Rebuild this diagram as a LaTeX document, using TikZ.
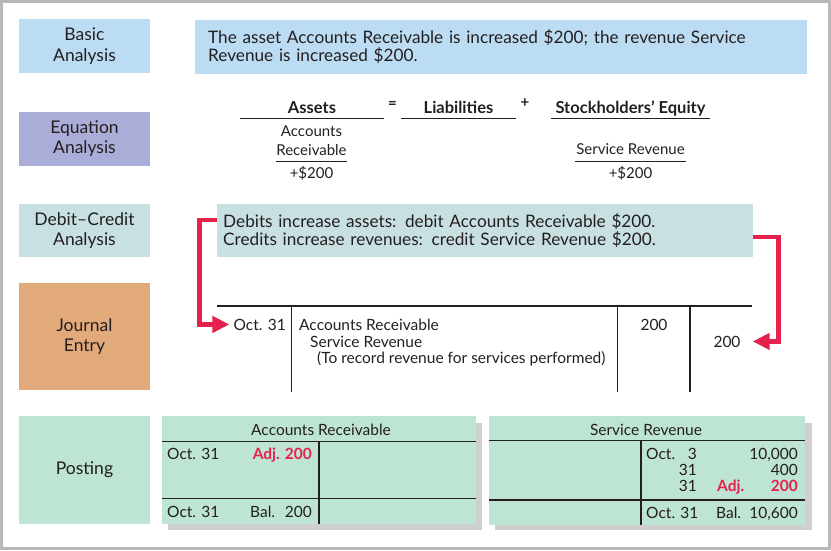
\documentclass[tikz,border=0pt]{standalone}
\usepackage{fontspec}
\setmainfont{Lato}
\usetikzlibrary{arrows.meta}
\definecolor{basicblue}{HTML}{BCDCF3}
\definecolor{eqlilac}{HTML}{ABADD9}
\definecolor{dcgrey}{HTML}{C9E0E2}
\definecolor{jetan}{HTML}{E2A97B}
\definecolor{postmint}{HTML}{BEE4D3}
\definecolor{flowred}{HTML}{E5214E}
\definecolor{inkdark}{HTML}{231F20}
\definecolor{framegrey}{HTML}{B8B8B8}
\definecolor{shadegrey}{HTML}{CFCFCF}

\begin{document}
\begin{tikzpicture}[x=1pt,y=-1pt,
  every node/.style={text=inkdark},
  labelbox/.style={minimum width=131pt,inner sep=0pt,align=center,
    font=\fontsize{17.5}{20.5}\selectfont},
  bigtext/.style={font=\fontsize{17.2}{18.5}\selectfont},
  eqtext/.style={font=\fontsize{15}{17}\selectfont,inner sep=0pt},
  eqhead/.style={font=\fontsize{16.5}{18}\selectfont\bfseries,inner sep=0pt},
  jtext/.style={font=\fontsize{15.5}{17}\selectfont,inner sep=0pt},
  ttext/.style={font=\fontsize{15.5}{17}\selectfont,inner sep=0pt},
  redtext/.style={font=\fontsize{15.5}{17}\selectfont\bfseries,text=flowred,inner sep=0pt},
  rule/.style={draw=inkdark,line width=1.1pt},
  flow/.style={draw=flowred,line width=4.5pt,
    -{Triangle[length=17pt,width=16pt]}}]

\useasboundingbox (0,0) rectangle (831,550);
\draw[framegrey,line width=3pt] (1.5,1.5) rectangle (829.5,548.5);

% left column labels
\node[labelbox,fill=basicblue,minimum height=54pt] (basiclab) at (84.5,46.3) {Basic\\Analysis};
\node[labelbox,fill=eqlilac,minimum height=54pt] (eqlab) at (84.5,138.8) {Equation\\Analysis};
\node[labelbox,fill=dcgrey,minimum height=53pt] (dclab) at (84.5,230.7) {Debit--Credit\\Analysis};
\node[labelbox,fill=jetan,minimum height=107pt] (jelab) at (84.5,336.7) {Journal\\Entry};
\node[labelbox,fill=postmint,minimum height=108pt] (postlab) at (84.5,470) {Posting};

% basic analysis
\node[bigtext,fill=basicblue,anchor=north west,minimum width=612pt,minimum height=54pt,
  text width=586pt,inner xsep=13pt,align=left] (basicbox) at (195,19.3)
  {The asset Accounts Receivable is increased \$200; the revenue Service\\Revenue is increased \$200.};

% equation analysis
\node[eqhead,anchor=base] (assets) at (312,113) {Assets};
\node[eqhead,anchor=base] (liab) at (458.5,113) {Liabilities};
\node[eqhead,anchor=base] (equity) at (630.5,113) {Stockholders’ Equity};
\node[eqhead,font=\fontsize{15}{16}\selectfont\bfseries] (eqsign) at (392.5,104.5) {=};
\node[eqhead,font=\fontsize{15}{16}\selectfont\bfseries] (plussign) at (525,103.5) {+};
\draw[rule] (240,118.3) -- (384,118.3);
\draw[rule] (401,118.3) -- (516,118.3);
\draw[rule] (550.5,118.3) -- (710,118.3);
\node[eqtext,anchor=base] (arname) at (311.5,136.7) {Accounts};
\node[eqtext,anchor=base] (arname2) at (311.5,155) {Receivable};
\draw[rule,line width=0.9pt] (276,161.3) -- (347,161.3);
\node[eqtext,anchor=base] (arplus) at (311.5,178.3) {+\$200};
\node[eqtext,anchor=base] (srname) at (630.5,154.5) {Service Revenue};
\draw[rule,line width=0.9pt] (575,161.3) -- (686,161.3);
\node[eqtext,anchor=base] (srplus) at (630.5,178.3) {+\$200};

% debit-credit analysis
\node[bigtext,fill=dcgrey,anchor=north west,minimum width=536pt,minimum height=53pt,
  text width=524pt,inner xsep=6pt,align=left] (dcbox) at (217,204)
  {Debits increase assets: debit Accounts Receivable \$200.\\Credits increase revenues: credit Service Revenue \$200.};

% journal entry
\draw[rule,line width=1.3pt] (217,306) -- (752,306);
\draw[rule,line width=1.3pt] (291.7,306) -- (291.7,392);
\draw[rule,line width=1.3pt] (617.7,306) -- (617.7,392);
\draw[rule,line width=1.3pt] (690,306) -- (690,392);
\node[jtext,anchor=base east] (jdate) at (286,330) {Oct. 31};
\node[jtext,anchor=base west] (jdebit) at (299,330) {Accounts Receivable};
\node[jtext,anchor=base west] (jcredacct) at (310,347) {Service Revenue};
\node[jtext,anchor=base west] (jexpl) at (317,363) {(To record revenue for services performed)};
\node[jtext,anchor=base] (jdramt) at (654,330) {200};
\node[jtext,anchor=base] (jcramt) at (727,347) {200};

\draw[flow] ([yshift=10.5pt]dcbox.west) -- ++(-17.5,0) |- ([xshift=-4pt]jdate.west);
\draw[flow] ([yshift=-6.3pt]dcbox.east) -- ++(25.3,0) |- ([xshift=12pt]jcramt.east);

% posting: accounts receivable
\fill[shadegrey] (168,423) rectangle (482,529.5);
\fill[postmint] (162,416) rectangle (476,524);
\draw[rule] (162,441.5) -- (476,441.5);
\draw[rule] (162,498.5) -- (476,498.5);
\draw[rule] (319,441.5) -- (319,524);
\node[ttext,anchor=base] (artitle) at (321,435) {Accounts Receivable};
\node[ttext,anchor=base west] (ardate) at (167,459.5) {Oct. 31};
\node[redtext,anchor=base east] (aradj) at (312,459.5) {Adj. 200};
\node[ttext,anchor=base west] (arbdate) at (167,517.5) {Oct. 31};
\node[ttext,anchor=base west] (arbal) at (250,517.5) {Bal.};
\node[ttext,anchor=base east] (arbalamt) at (312,517.5) {200};

% posting: service revenue
\fill[shadegrey] (495,423) rectangle (811.5,530);
\fill[postmint] (489,416) rectangle (805,524.5);
\draw[rule] (489,440.7) -- (805,440.7);
\draw[rule] (489,500) -- (805,500);
\draw[rule] (641,440.7) -- (641,524.5);
\node[ttext,anchor=base] (srtitle) at (646,435) {Service Revenue};
\node[ttext,anchor=base west] (srmon) at (646,459) {Oct.};
\node[ttext,anchor=base east] (srday1) at (697,459) {3};
\node[ttext,anchor=base east] (sramt1) at (798,459) {10,000};
\node[ttext,anchor=base east] (srday2) at (697,475) {31};
\node[ttext,anchor=base east] (sramt2) at (798,475) {400};
\node[ttext,anchor=base east] (srday3) at (697,491) {31};
\node[redtext,anchor=base west] (sradj) at (717,491) {Adj.};
\node[redtext,anchor=base east] (sramt3) at (798,491) {200};
\node[ttext,anchor=base west] (srbdate) at (646,518.5) {Oct. 31};
\node[ttext,anchor=base west] (srbal) at (716,518.5) {Bal.};
\node[ttext,anchor=base east] (srbalamt) at (798,518.5) {10,600};
\end{tikzpicture}
\end{document}
